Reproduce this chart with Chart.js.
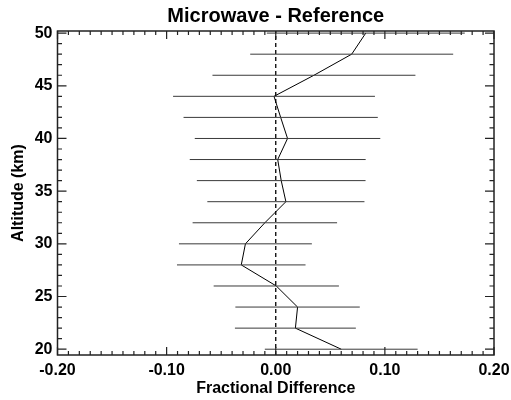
<!DOCTYPE html>
<html>
<head>
<meta charset="utf-8">
<script src="https://cdn.jsdelivr.net/npm/chart.js@4/dist/chart.umd.min.js"></script>
<style>
  html, body { margin: 0; padding: 0; background: #fff; }
  #wrap { width: 511px; height: 400px; }
</style>
</head>
<body>
<div id="wrap"><canvas id="profileChart"></canvas></div>
<script>
// altitude levels (km) and microwave - reference statistics
const altitudes = [20, 22, 24, 26, 28, 30, 32, 34, 36, 38, 40, 42, 44, 46, 48, 50];
const meanDiff = [0.060, 0.018, 0.020, 0.0005, -0.0316, -0.0278, -0.010, 0.0093, 0.005, 0.0018, 0.0108, 0.0045, -0.0016, 0.035, 0.0696, 0.0825];
const stdDev = [0.070, 0.0554, 0.057, 0.0574, 0.0589, 0.0609, 0.0662, 0.072, 0.0773, 0.0806, 0.085, 0.089, 0.0925, 0.093, 0.093, 0.0907];

// tick labels
const xTicks = [-0.20, -0.10, 0.00, 0.10, 0.20];
const yTicks = [20, 25, 30, 35, 40, 45, 50];
const xMinorStep = 0.01;
const yMinorStep = 1;

const fontFamily = '"Liberation Sans", Arial, Helvetica, sans-serif';

//error bar datasets, one per level
let errorSets = altitudes.map(function (alt, i) {
    return {
        data: [{x: meanDiff[i] - stdDev[i], y: alt}, {x: meanDiff[i] + stdDev[i], y: alt}],
        borderColor: '#3a3a3a',
        borderWidth: 1,
        showLine: true,
        pointRadius: 0,
        fill: false,
        clip: false
    };
});

let profileSet = {
    data: altitudes.map(function (alt, i) { return {x: meanDiff[i], y: alt}; }),
    borderColor: '#000',
    borderWidth: 1,
    showLine: true,
    pointRadius: 0,
    fill: false
};

//frame, inward ticks on all sides and the dashed zero line
const framePlugin = {
    id: 'frame',
    beforeDatasetsDraw(chart) {
        const ctx = chart.ctx;
        const a = chart.chartArea;
        const xs = chart.scales.x;
        ctx.save();
        // dashed zero line
        const x0 = xs.getPixelForValue(0);
        ctx.strokeStyle = '#000';
        ctx.lineWidth = 1.3;
        ctx.setLineDash([4, 3]);
        ctx.beginPath();
        ctx.moveTo(x0, a.bottom);
        ctx.lineTo(x0, a.top);
        ctx.stroke();
        ctx.restore();
    },
    afterDraw(chart) {
        const ctx = chart.ctx;
        const a = chart.chartArea;
        const xs = chart.scales.x;
        const ys = chart.scales.y;
        ctx.save();

        // frame
        ctx.strokeStyle = '#222';
        ctx.lineWidth = 1.5;
        ctx.strokeRect(a.left, a.top, a.right - a.left, a.bottom - a.top);

        ctx.lineWidth = 1.2;
        ctx.beginPath();
        // x ticks
        const nx = Math.round((xs.max - xs.min) / xMinorStep);
        for (let k = 0; k <= nx; k++) {
            const v = xs.min + k * xMinorStep;
            const px = xs.getPixelForValue(v);
            const major = xTicks.some(function (t) { return Math.abs(t - v) < 1e-6; });
            const len = major ? 8 : 4;
            ctx.moveTo(px, a.bottom); ctx.lineTo(px, a.bottom - len);
            ctx.moveTo(px, a.top); ctx.lineTo(px, a.top + len);
        }
        // y ticks
        for (let v = Math.ceil(ys.min); v <= ys.max; v += yMinorStep) {
            const py = ys.getPixelForValue(v);
            const major = yTicks.indexOf(v) >= 0;
            const len = major ? 9 : 4.5;
            ctx.moveTo(a.left, py); ctx.lineTo(a.left + len, py);
            ctx.moveTo(a.right, py); ctx.lineTo(a.right - len, py);
        }
        ctx.stroke();
        ctx.restore();
    }
};

function drawChart() {
    var ctx = document.getElementById('profileChart').getContext('2d');
    new Chart(ctx, {
        type: 'scatter',
        data: {
            datasets: errorSets.concat([profileSet])
        },
        options: {
            responsive: true,
            maintainAspectRatio: false,
            animation: false,
            layout: {
                padding: {left: 0, right: 0, top: 0, bottom: 0}
            },
            plugins: {
                legend: {display: false},
                tooltip: {enabled: false},
                title: {
                    display: true,
                    text: 'Microwave - Reference',
                    color: '#000',
                    fullSize: false,
                    font: {family: fontFamily, size: 20, weight: 'bold'},
                    padding: {top: 4, bottom: 3}
                }
            },
            scales: {
                x: {
                    type: 'linear',
                    min: -0.2,
                    max: 0.2,
                    grid: {display: false, drawTicks: false},
                    border: {display: false},
                    afterBuildTicks: function (scale) {
                        scale.ticks = xTicks.map(function (v) { return {value: v}; });
                    },
                    afterFit: function (scale) {
                        scale.height = 45;
                        scale.paddingRight = 17;
                        scale.paddingLeft = 0;
                    },
                    ticks: {
                        color: '#000',
                        padding: 6,
                        maxRotation: 0,
                        font: {family: fontFamily, size: 16, weight: 'bold'},
                        callback: function (v) { return v.toFixed(2); }
                    },
                    title: {
                        display: true,
                        text: 'Fractional Difference',
                        color: '#000',
                        font: {family: fontFamily, size: 16, weight: 'bold'},
                        padding: {top: 0, bottom: 2}
                    }
                },
                y: {
                    type: 'linear',
                    min: 19.45,
                    max: 50.2,
                    grid: {display: false, drawTicks: false},
                    border: {display: false},
                    afterBuildTicks: function (scale) {
                        scale.ticks = yTicks.map(function (v) { return {value: v}; });
                    },
                    afterFit: function (scale) { scale.width = 57.5; },
                    ticks: {
                        color: '#000',
                        padding: 5,
                        font: {family: fontFamily, size: 16, weight: 'bold'}
                    },
                    title: {
                        display: true,
                        text: 'Altitude (km)',
                        color: '#000',
                        font: {family: fontFamily, size: 16, weight: 'bold'},
                        padding: {top: 9, bottom: 0}
                    }
                }
            }
        },
        plugins: [framePlugin]
    });
}

drawChart();
</script>
</body>
</html>
